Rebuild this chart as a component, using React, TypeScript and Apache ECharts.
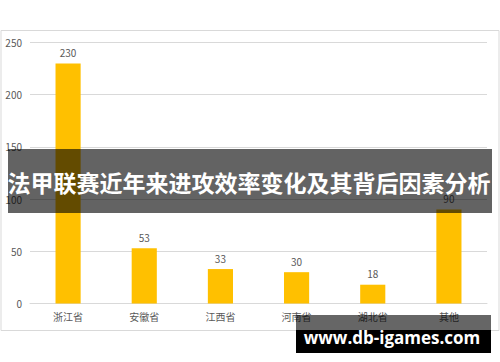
import React, { useEffect, useRef } from "react";
import * as echarts from "echarts";

const categories = ["浙江省", "安徽省", "江西省", "河南省", "湖北省", "其他"];
const values = [230, 53, 33, 30, 18, 90];
const yTicks = { min: 0, max: 250, interval: 50 };
const title = "法甲联赛近年来进攻效率变化及其背后因素分析";
const siteText = "www.db-igames.com";

export default function App() {
  const ref = useRef<HTMLDivElement>(null);

  useEffect(() => {
    if (!ref.current) return;
    const chart = echarts.init(ref.current, null, { renderer: "svg" });
    const labelFont = "'Microsoft YaHei', 'Noto Sans CJK SC', sans-serif";
    chart.setOption({
      animation: false,
      backgroundColor: "#ffffff",
      grid: { left: 30, right: 13, top: 42.5, bottom: 58.5 },
      xAxis: {
        type: "category",
        data: categories,
        axisLine: { show: true, lineStyle: { color: "#d9d9d9", width: 1 } },
        axisTick: { show: false },
        axisLabel: { color: "#595959", fontSize: 10, margin: 8, fontFamily: labelFont },
      },
      yAxis: {
        type: "value",
        min: yTicks.min,
        max: yTicks.max,
        interval: yTicks.interval,
        axisLine: { show: false },
        axisTick: { show: false },
        splitLine: { lineStyle: { color: "#d9d9d9", width: 1 } },
        axisLabel: { color: "#595959", fontSize: 10, margin: 8, fontFamily: labelFont },
      },
      series: [
        {
          type: "bar",
          data: values,
          barWidth: "33%",
          itemStyle: { color: "#ffc000" },
          label: {
            show: true,
            position: "top",
            distance: 6,
            color: "#595959",
            fontSize: 10,
            fontFamily: labelFont,
          },
        },
      ],
      graphic: [
        {
          type: "rect",
          silent: true,
          shape: { x: 1, y: 30.5, width: 498, height: 300 },
          style: { fill: "none", stroke: "#d9d9d9", lineWidth: 1 },
          z: 0,
        },
        {
          type: "rect",
          shape: { x: 8, y: 149, width: 484, height: 64 },
          style: { fill: "rgba(0,0,0,0.61)" },
          z: 100,
        },
        {
          type: "text",
          x: 249,
          y: 182,
          style: {
            text: title,
            fill: "#ffffff",
            fontSize: 23,
            fontWeight: "bold",
            fontFamily: "Noto Sans CJK SC",
            align: "center",
            verticalAlign: "middle",
          },
          z: 101,
        },
        {
          type: "rect",
          shape: { x: 296, y: 315, width: 195, height: 15 },
          style: { fill: "rgba(0,0,0,0.6)" },
          z: 100,
        },
        {
          type: "rect",
          shape: { x: 296, y: 330, width: 195, height: 23 },
          style: { fill: "#000000" },
          z: 100,
        },
        {
          type: "text",
          x: 392,
          y: 337,
          style: {
            text: siteText,
            fill: "#ffffff",
            fontSize: 17,
            fontWeight: "bold",
            fontFamily: "Open Sans",
            align: "center",
            verticalAlign: "middle",
          },
          z: 101,
        },
      ],
    });
    return () => chart.dispose();
  }, []);

  return (
    <div
      ref={ref}
      style={{ position: "fixed", left: 0, top: 0, width: 500, height: 362 }}
    />
  );
}
